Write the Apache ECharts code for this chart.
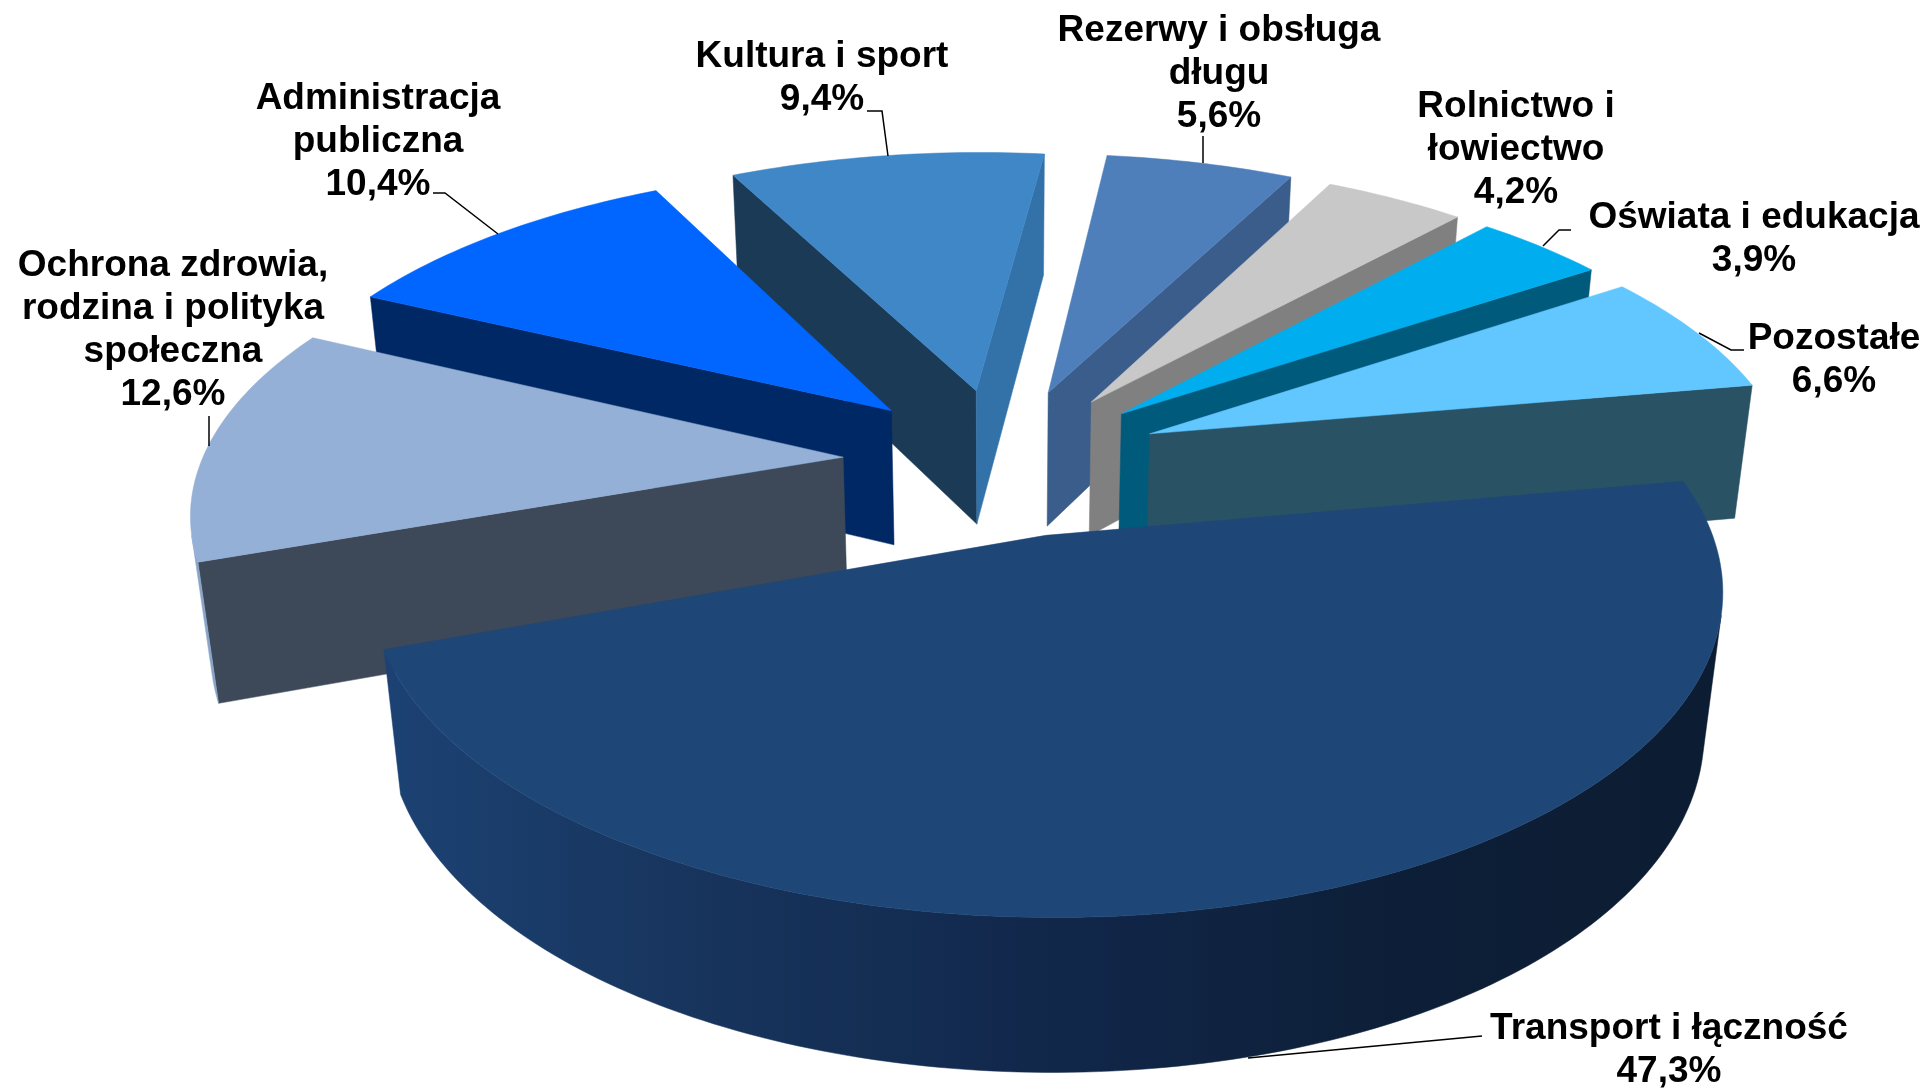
<!DOCTYPE html>
<html lang="pl">
<head>
<meta charset="utf-8">
<title>Struktura wydatków</title>
<style>
    html, body { margin: 0; padding: 0; background: #fff; }
    #chart { width: 1928px; height: 1090px; }
</style>
<script src="https://cdn.jsdelivr.net/npm/echarts@6/dist/echarts.min.js"></script>
</head>
<body>
<div id="chart"></div>
<script>
// chart data
const categories = [
    'Transport i łączność',
    'Ochrona zdrowia,\nrodzina i polityka\nspołeczna',
    'Administracja\npubliczna',
    'Kultura i sport',
    'Rezerwy i obsługa\ndługu',
    'Rolnictwo i\nłowiectwo',
    'Oświata i edukacja',
    'Pozostałe'
];
const values = [47.3, 12.6, 10.4, 9.4, 5.6, 4.2, 3.9, 6.6];

// colours, same order as categories
const topColors = ['#1e4778', '#95b0d6', '#0066ff', '#3f87c7', '#4f7fbb', '#c8c8c8', '#00aeef', '#63c7ff'];
const startWallColors = ['#1b4272', '#3d4858', '#002865', '#1b3a55', '#3a5d8b', '#808080', '#005a7c', '#2a5265'];
const endWallColors = ['#0c1c32', '#3d4858', '#002865', '#3272a8', '#3a5d8b', '#808080', '#005a7c', '#2a5265'];
const outerWallColors = [null, '#8aa4c8', '#002865', '#3272a8', '#3a5d8b', '#808080', '#005a7c', '#2a5265'];

// back to front
const drawOrder = [3, 4, 2, 5, 6, 7, 1, 0];

// label centre and leader line for each category
const labelCenters = [[1669, 1050], [173, 330], [378, 142], [822, 78], [1219, 74], [1516, 150], [1754, 239], [1834, 360]];
const leaderLines = [
    [[1482, 1036], [1248, 1058]],
    [[209, 416], [209, 446]],
    [[433, 193], [445, 193], [498, 234]],
    [[867, 111], [882, 111], [888, 156]],
    [[1203, 136], [1203, 163]],
    null,
    [[1571, 230], [1559, 230], [1543, 246]],
    [[1699, 333], [1731, 350], [1744, 350]]
];

// camera
const CX = 1003, CY = 461;
const SCALE_X = 641.5, SCALE_Y = 296, PERSPECTIVE = 0.157;
const DEPTH = 140, DEPTH_W = 0.025;
const EXPLODE = 0.25;
const START_ANGLE = 80;

const total = values.reduce((a, b) => a + b, 0);

// pie plane to screen, z = 0 on the top face, z = 1 on the bottom face
const project = (x, y, z) => {
    const w = 1 + PERSPECTIVE * y + DEPTH_W * z;
    return [CX + SCALE_X * x / w, CY + (DEPTH * z - SCALE_Y * y) / w];
};

const area = (pts) => {
    let s = 0;
    pts.forEach((p, i) => {
        const q = pts[(i + 1) % pts.length];
        s += p[0] * q[1] - q[0] * p[1];
    });
    return s / 2;
};

const polygon = (points, fill) => ({
    type: 'polygon',
    shape: { points },
    style: { fill, stroke: fill, lineWidth: 0.5 },
    silent: true
});

const transportWall = new echarts.graphic.LinearGradient(0, 0, 1, 0, [
    { offset: 0, color: '#1c4273' },
    { offset: 0.2, color: '#183660' },
    { offset: 0.5, color: '#11274a' },
    { offset: 0.75, color: '#0d1f38' },
    { offset: 1, color: '#0c1c32' }
]);

const sliceAngles = (index) => {
    let from = START_ANGLE;
    for (let i = 0; i < index; i++) from += values[i] / total * 360;
    return [from, from + values[index] / total * 360];
};

const buildSlice = (index) => {
    const [from, to] = sliceAngles(index);
    const mid = (from + to) / 2 * Math.PI / 180;
    const ox = EXPLODE * Math.sin(mid), oy = EXPLODE * Math.cos(mid);
    const at = (deg, z) => {
        const a = deg * Math.PI / 180;
        return project(ox + Math.sin(a), oy + Math.cos(a), z);
    };
    const apex = (z) => project(ox, oy, z);

    const steps = Math.max(8, Math.ceil(to - from));
    const angles = [];
    for (let i = 0; i <= steps; i++) angles.push(from + (to - from) * i / steps);

    const children = [];

    // cut faces
    const startFace = [apex(0), at(from, 0), at(from, 1), apex(1)];
    if (area(startFace) < 0) children.push(polygon(startFace, startWallColors[index]));
    const endFace = [at(to, 0), apex(0), apex(1), at(to, 1)];
    if (area(endFace) < 0) children.push(polygon(endFace, endWallColors[index]));

    // rim, only the part turned to the camera
    let run = [];
    const flush = () => {
        if (run.length > 1) {
            const pts = run.map((a) => at(a, 0)).concat(run.slice().reverse().map((a) => at(a, 1)));
            children.push(polygon(pts, outerWallColors[index] || transportWall));
        }
        run = [];
    };
    for (let i = 0; i < steps; i++) {
        const strip = [at(angles[i], 0), at(angles[i + 1], 0), at(angles[i + 1], 1), at(angles[i], 1)];
        if (area(strip) < 0) {
            if (!run.length) run.push(angles[i]);
            run.push(angles[i + 1]);
        } else {
            flush();
        }
    }
    flush();

    // top face
    children.push(polygon([apex(0)].concat(angles.map((a) => at(a, 0))), topColors[index]));
    return children;
};

const percentLabel = (v) => v.toFixed(1).replace('.', ',') + '%';

const chart = echarts.init(document.getElementById('chart'), null, { renderer: 'canvas' });

chart.setOption({
    animation: false,
    backgroundColor: '#fff',
    series: [
        {
            type: 'custom',
            coordinateSystem: 'none',
            silent: true,
            data: drawOrder,
            renderItem: (params, api) => ({
                type: 'group',
                children: buildSlice(api.value(0))
            })
        },
        {
            type: 'custom',
            coordinateSystem: 'none',
            silent: true,
            z: 5,
            data: categories.map((_, i) => i),
            renderItem: (params, api) => {
                const i = api.value(0);
                const children = [{
                    type: 'text',
                    style: {
                        text: categories[i] + '\n' + percentLabel(values[i]),
                        x: labelCenters[i][0],
                        y: labelCenters[i][1],
                        align: 'center',
                        verticalAlign: 'middle',
                        font: 'bold 37px "Liberation Sans", Arial, sans-serif',
                        lineHeight: 43,
                        fill: '#000'
                    }
                }];
                if (leaderLines[i]) {
                    children.push({
                        type: 'polyline',
                        shape: { points: leaderLines[i] },
                        style: { stroke: '#000', lineWidth: 1.5, fill: 'none' }
                    });
                }
                return { type: 'group', children };
            }
        }
    ]
});
</script>
</body>
</html>
